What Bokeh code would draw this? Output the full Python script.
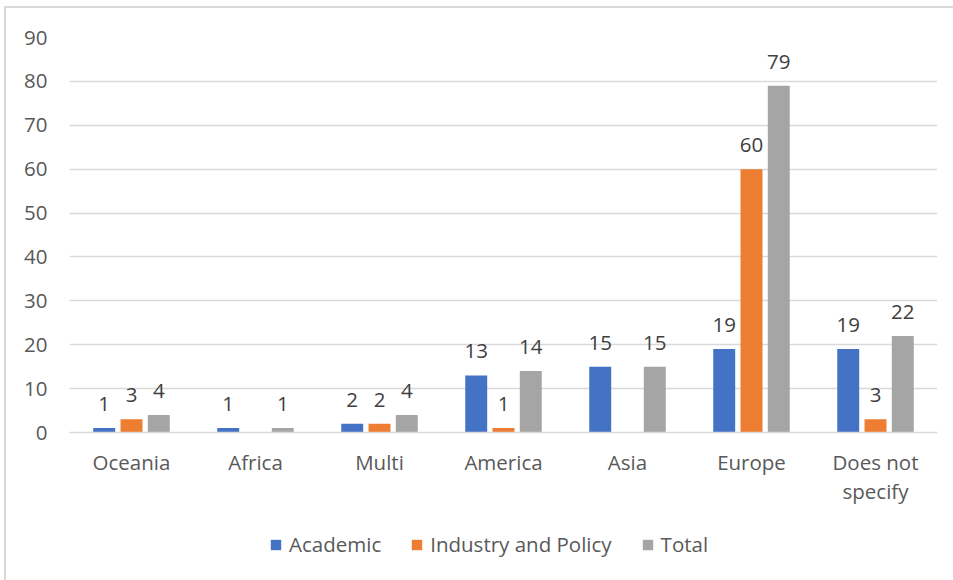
from bokeh.plotting import figure
from bokeh.models import ColumnDataSource, Range1d, FixedTicker, Legend, LegendItem, LabelSet
from bokeh.layouts import column
from bokeh.core.properties import value
from bokeh.embed import file_html
from bokeh.resources import INLINE

regions = ["Oceania", "Africa", "Multi", "America", "Asia", "Europe", "Does not\nspecify"]
academic = [1, 1, 2, 13, 15, 19, 19]
industry = [3, 0, 2, 1, 0, 60, 3]
total = [4, 1, 4, 14, 15, 79, 22]
series_names = ["Academic", "Industry and Policy", "Total"]
colors = ["#4472C4", "#ED7D31", "#A5A5A5"]
y_ticks = [0, 10, 20, 30, 40, 50, 60, 70, 80, 90]

FONT = "Open Sans"
FS = "20.5px"
TXT = "#595959"

p = figure(width=947, height=514, output_backend="svg", toolbar_location=None,
           x_range=Range1d(-0.5, len(regions) - 0.5), y_range=Range1d(0, 90),
           min_border_left=63, min_border_right=16, min_border_top=29, min_border_bottom=90)
p.outline_line_color = None
p.background_fill_color = "white"
p.border_fill_color = "white"

offsets = [-0.22, 0.0, 0.22]
bar_w = 0.177
for vals, name, col, off in zip([academic, industry, total], series_names, colors, offsets):
    src = ColumnDataSource(dict(x=[i + off for i in range(len(regions))], top=vals,
                                lab=[str(v) if v != 0 else "" for v in vals]))
    p.vbar(x="x", top="top", width=bar_w, bottom=0, source=src, fill_color=col, line_color=None)
    p.add_layout(LabelSet(x="x", y="top", text="lab", source=src, text_align="center",
                          text_baseline="bottom", y_offset=17, text_font=value(FONT),
                          text_font_size=value(FS), text_color=value("#404040")))

# axes
p.yaxis.ticker = FixedTicker(ticks=y_ticks)
p.yaxis.axis_line_color = None
p.yaxis.major_tick_line_color = None
p.yaxis.minor_tick_line_color = None
p.yaxis.major_label_standoff = 16
p.yaxis.major_label_text_font = FONT
p.yaxis.major_label_text_font_size = FS
p.yaxis.major_label_text_color = TXT

p.xaxis.ticker = FixedTicker(ticks=list(range(len(regions))))
p.xaxis.major_label_overrides = {i: lab for i, lab in enumerate(regions)}
p.xaxis.axis_line_color = "#D9D9D9"
p.xaxis.axis_line_width = 1.5
p.xaxis.major_tick_line_color = None
p.xaxis.minor_tick_line_color = None
p.xaxis.major_label_standoff = 9
p.xaxis.major_label_text_font = FONT
p.xaxis.major_label_text_font_size = FS
p.xaxis.major_label_text_color = TXT
p.xaxis.major_label_text_line_height = 1.05

p.xgrid.grid_line_color = None
p.ygrid.grid_line_color = "#D9D9D9"
p.ygrid.grid_line_width = 1.5

# legend figure (zero-height swatch renderers only feed the legend)
lg = figure(width=947, height=58, output_backend="svg", toolbar_location=None,
            x_range=Range1d(0, 1), y_range=Range1d(0, 1),
            min_border_left=0, min_border_right=0, min_border_top=0, min_border_bottom=0)
lg.axis.visible = False
lg.grid.grid_line_color = None
lg.outline_line_color = None
items = []
for name, col in zip(series_names, colors):
    r = lg.vbar(x=[-5], top=[0], bottom=[0], width=0.01, fill_color=col, line_color=None)
    items.append(LegendItem(label=name, renderers=[r]))
legend = Legend(items=items, orientation="horizontal", location=(200, 22), border_line_color=None,
                background_fill_alpha=0, label_text_font=FONT, label_text_font_size=FS,
                label_text_color=TXT, glyph_width=13, glyph_height=13, spacing=29,
                label_standoff=7, margin=0, padding=0)
lg.add_layout(legend, "center")

layout = column(p, lg, spacing=0, margin=(6, 0, 0, 4),
                styles={"border-top": "2px solid #D9D9D9", "border-left": "2px solid #D9D9D9"})

open("out.html", "w").write(file_html(layout, INLINE))
